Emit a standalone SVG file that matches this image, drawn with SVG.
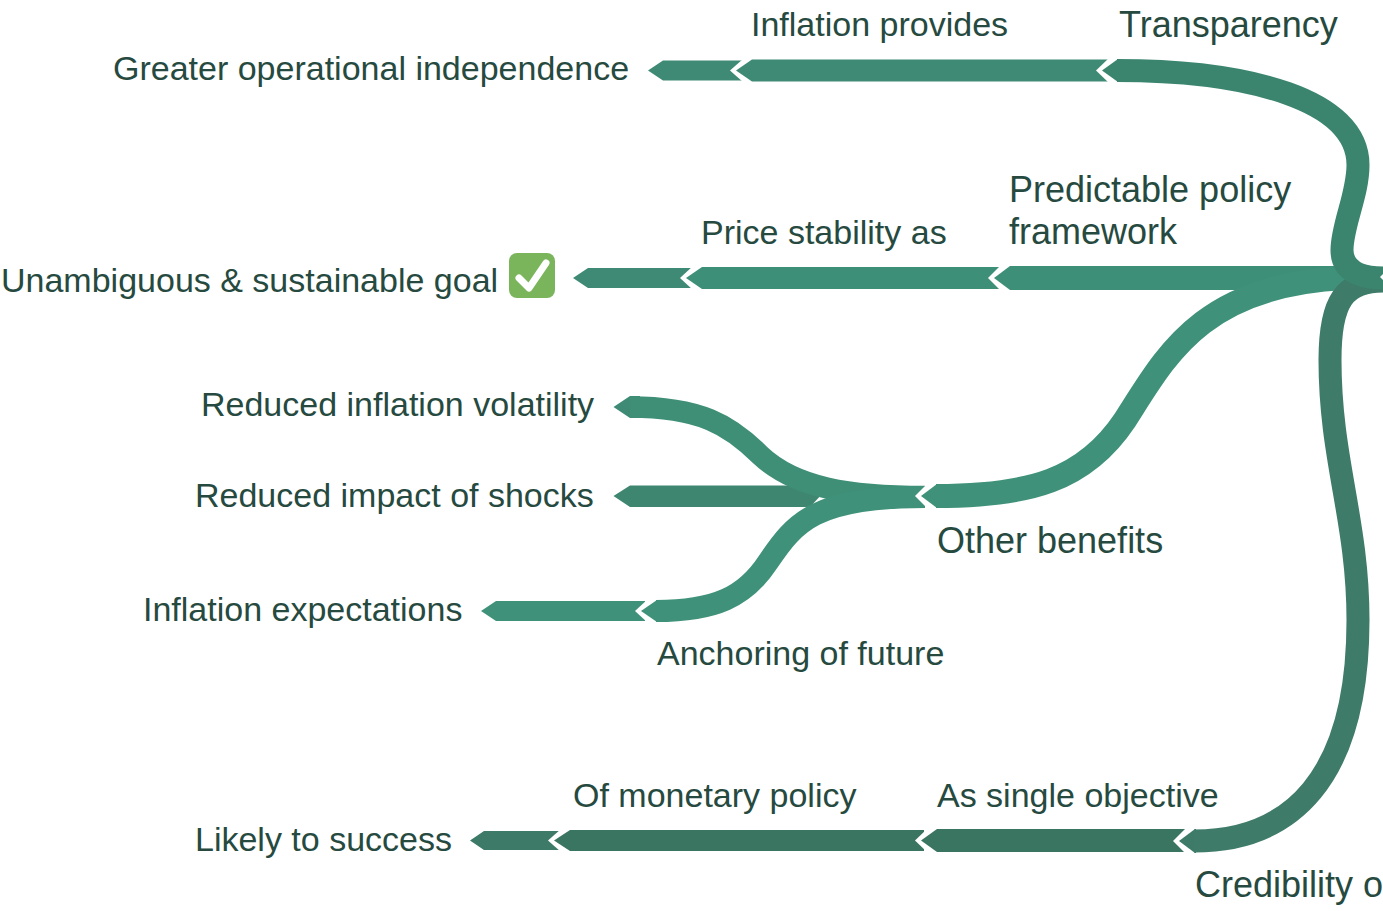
<svg xmlns="http://www.w3.org/2000/svg" width="1383" height="911" viewBox="0 0 1383 911">
<style>
text{font-family:"Liberation Sans",Arial,sans-serif;font-size:34px;fill:#264a40}
text.l{font-size:36px}
.w{fill:#fff}
.s{fill:none}
.a{fill:#3f8a74}.b{fill:#3f9279}.c{fill:#3f8670}.d{fill:#3d7a67}.e{fill:#3a7562}.f{fill:#3b856f}.g{fill:#3e8f77}
</style>
<rect width="1383" height="911" fill="#fff"/>
<g id="connectors">
<polygon class="a" points="648,70.500 663,60.500 745,60.500 745,80.500 663,80.500"/>
<polygon class="w" points="730,70.500 743,59 752,59 752,82 743,82"/>
<polygon class="a" points="736,70.500 752,59.500 1113,59.500 1113,81.500 752,81.500"/>
<polygon class="w" points="1096,70.500 1109,58 1118,58 1118,83 1109,83"/>
<polygon class="f" points="1102,70.500 1118,59 1119,59 1119,82 1118,82"/>
<polygon class="a" points="573,278 588,268 695,268 695,288 588,288"/>
<polygon class="w" points="680,278 693,266 702,266 702,290 693,290"/>
<polygon class="g" points="686,278 702,267 1005,267 1005,289 702,289"/>
<polygon class="w" points="988,278 1001,265 1010,265 1010,291 1001,291"/>
<polygon class="g" points="994,278 1010,266 1345,266 1345,290 1010,290"/>
<polygon class="a" points="613.500,407 630,396 640,396 640,418 630,418"/>
<polygon class="c" points="613.500,496 630,485.500 830,485.500 810,507 630,507"/>
<path class="s" d="M630,407C700,407 730,425 760,455C795,488 850,496.500 925,496.500" stroke="#3f8f77" stroke-width="21.500"/>
<polygon class="b" points="481,611 496,601 645,601 645,621 496,621"/>
<polygon class="w" points="635,611 648,599 657,599 657,623 648,623"/>
<polygon class="b" points="641,611 657,600 658,600 658,622 657,622"/>
<path class="s" d="M656,611C715,611 745,597 768,562C795,522 815,497 925,497" stroke="#3f9279" stroke-width="22"/>
<polygon class="w" points="915,496 928,483 937,483 937,509 928,509"/>
<polygon class="b" points="921,496 937,484 938,484 938,508 937,508"/>
<path class="s" d="M936,496C1030,496 1085,480 1125,420C1165,358 1200,285 1345,278" stroke="#3f9279" stroke-width="24"/>
<polygon class="d" points="470,840.500 484,831 565,831 565,850 484,850"/>
<polygon class="w" points="548,840.500 561,829 570,829 570,852 561,852"/>
<polygon class="e" points="554,840.500 570,830 924,830 924,851 570,851"/>
<polygon class="w" points="915,840.500 928,828 937,828 937,853 928,853"/>
<polygon class="e" points="921,840.500 937,829 1186,829 1186,852 937,852"/>
<polygon class="w" points="1173,841 1186,828 1195,828 1195,854 1186,854"/>
<polygon class="d" points="1179,841 1195,829 1196,829 1196,853 1195,853"/>
<path class="s" d="M1194,841C1290,841 1358,780 1358,620C1358,520 1330,460 1330,360C1330,300 1345,281 1383,281" stroke="#3e7b68" stroke-width="23"/>
<path class="s" d="M1117,70.500C1250,70.500 1358,100 1358,165C1358,195 1342,225 1342,250C1342,272 1362,278 1383,278" stroke="#3b856f" stroke-width="23"/>
<polygon class="w" points="1384,273 1380,277 1384,281"/>
</g>
<g id="n1"><text x="113" y="80">Greater operational independence</text></g>
<g id="n2"><text x="751" y="36">Inflation provides</text></g>
<g id="n3"><text class="l" x="1119" y="36.500">Transparency</text></g>
<g id="n4"><text class="l" x="1009" y="202">Predictable policy</text><text class="l" x="1009" y="244">framework</text></g>
<g id="n5"><text x="701" y="244">Price stability as</text></g>
<g id="n6"><text x="1" y="292">Unambiguous &amp; sustainable goal</text>
<rect x="509" y="253" width="46" height="45" rx="8" fill="#7ab55c"/>
<path d="M519,278L529,288L546,263" fill="none" stroke="#fff" stroke-width="7" stroke-linecap="round" stroke-linejoin="round"/></g>
<g id="n7"><text x="201" y="416">Reduced inflation volatility</text></g>
<g id="n8"><text x="195" y="507">Reduced impact of shocks</text></g>
<g id="n9"><text x="143" y="621">Inflation expectations</text></g>
<g id="n10"><text class="l" x="937" y="553">Other benefits</text></g>
<g id="n11"><text x="657" y="665">Anchoring of future</text></g>
<g id="n12"><text x="573" y="807">Of monetary policy</text></g>
<g id="n13"><text x="937" y="807">As single objective</text></g>
<g id="n14"><text x="195" y="851">Likely to success</text></g>
<g id="n15"><text class="l" x="1195" y="897">Credibility o</text></g>
</svg>
